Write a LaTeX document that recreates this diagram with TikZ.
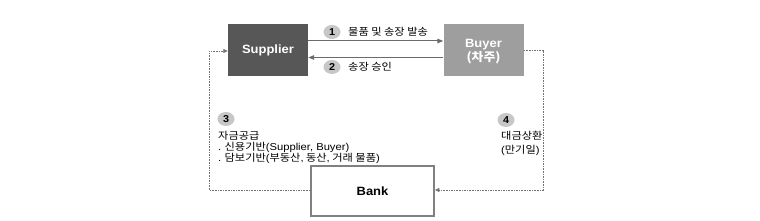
\documentclass[tikz,border=0pt]{standalone}
\usepackage{fontspec}
\setmainfont{Liberation Sans}[FakeStretch=1.08]
\newfontfamily\kr{Noto Sans CJK KR}[FakeStretch=1.12]
\newfontfamily\krb{Noto Sans CJK KR}[FakeStretch=1.07]
\newfontfamily\lat{Liberation Sans}[FakeStretch=1.12]
\usetikzlibrary{arrows.meta,shapes.geometric}
\begin{document}
\begin{tikzpicture}[x=1pt,y=-1pt,
  sbox/.style={draw=none,minimum width=80pt,minimum height=52pt,font=\bfseries\fontsize{12}{13}\selectfont,text=white,align=center},
  num/.style={ellipse,fill=black!22,inner sep=0pt,minimum width=17pt,minimum height=14pt,font=\bfseries\fontsize{10}{10}\selectfont},
  lbl/.style={font=\kr\fontsize{10}{11}\selectfont,inner sep=0pt,anchor=west},
  solidarr/.style={draw=black!58,line width=1pt,-{Triangle[length=6pt,width=4.5pt]}},
  dasharr/.style={draw=black!55,line width=0.8pt,dash pattern=on 1.6pt off 1pt,-{Triangle[length=4.5pt,width=4pt]}}]
\useasboundingbox (0,0) rectangle (760,221);
\node[sbox,fill=black!66] (sup) at (268,50) {Supplier};
\node[sbox,fill=black!38] (buy) at (483.5,50) {};
\node[text=white,font=\bfseries\fontsize{12}{13}\selectfont,inner sep=0pt] (buyt) at (483.5,44.5) {Buyer};
\node[text=white,font=\krb\bfseries\fontsize{12}{13}\selectfont,inner sep=0pt] (buyk) at (483.5,58) {(차주)};
\node[draw=black!50,line width=1.8pt,minimum width=123pt,minimum height=50pt,font=\bfseries\fontsize{12}{13}\selectfont] (bank) at (372.5,191) {Bank};
\draw[solidarr] (sup.east |- 0,41) -- (buy.west |- 0,41);
\draw[solidarr] (buy.west |- 0,57.5) -- (sup.east |- 0,57.5);
\node[num] (n1) at (332,32) {1};
\node[lbl] (l1) at (348,32) {물품 및 송장 발송};
\node[num] (n2) at (332,67) {2};
\node[lbl] (l2) at (348,67) {송장 승인};
\node[num] (n3) at (226,119) {3};
\node[lbl] (l3a) at (218,135.5) {자금공급};
\node[lbl] (l3b) at (218,147) {{\lat .} 신용기반{\lat(Supplier, Buyer)}};
\node[lbl] (l3c) at (218,158) {{\lat .} 담보기반{\lat(}부동산{\lat,} 동산{\lat,} 거래 물품{\lat)}};
\node[num] (n4) at (506,120) {4};
\node[lbl] (l4a) at (501,136) {대금상환};
\node[lbl] (l4b) at (501,150) {{\lat(}만기일{\lat)}};
\coordinate (lt) at (209,51);
\coordinate (lb) at (209,190);
\coordinate (rt) at (543,50);
\coordinate (rb) at (543,190);
\draw[dasharr] (bank.west |- lb) -- (lb) -- (lt) -- (sup.west |- lt);
\draw[dasharr] (buy.east |- rt) -- (rt) -- (rb) -- (bank.east |- rb);
\end{tikzpicture}
\end{document}
